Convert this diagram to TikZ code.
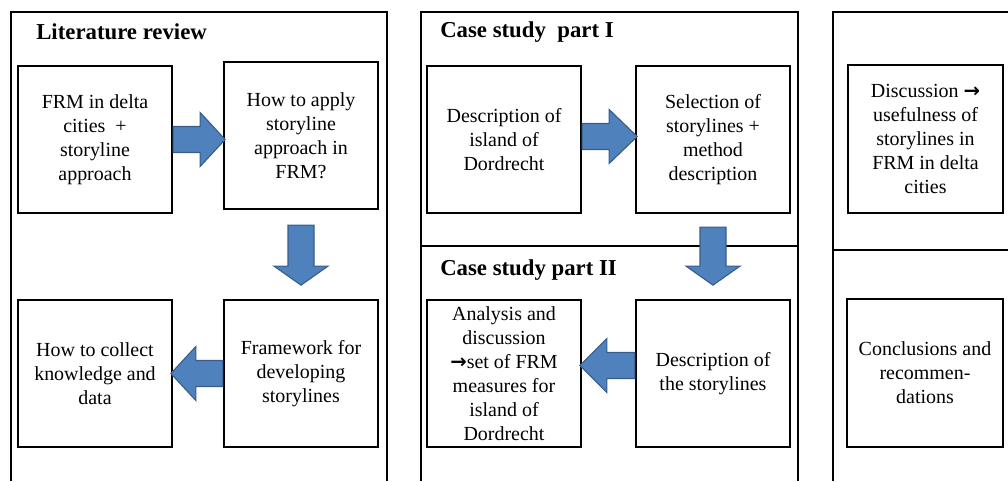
\documentclass[tikz,border=0pt]{standalone}
\usepackage{fontspec}
\setmainfont{Liberation Serif}
\newfontfamily\arrfont{DejaVu Sans}
\newcommand{\rarr}{{\arrfont\bfseries\fontsize{14}{17}\selectfont →}}
\usetikzlibrary{calc}
\definecolor{afill}{RGB}{79,129,189}
\definecolor{aline}{RGB}{56,93,138}
\newdimen\pxu \pxu=0.025cm
\tikzset{
  panel/.style={line width=1.6pt, black},
  stepbox/.style={draw, line width=1.6pt, align=center, inner sep=0pt,
    font=\fontsize{14.2}{17}\selectfont},
  heading/.style={anchor=west, inner sep=0pt, font=\fontsize{16.2}{18}\selectfont\bfseries},
  arrowst/.style={fill=afill, draw=aline, line width=0.8pt, line join=miter},
  pics/barrow/.style 2 args={code={
    \filldraw[arrowst] (0,-13) -- (#1-#2,-13) -- (#1-#2,-27) -- (#1,0) -- (#1-#2,27) -- (#1-#2,13) -- (0,13) -- cycle;}}
}
\begin{document}
\begin{tikzpicture}[x=0.025cm, y=-0.025cm]
\useasboundingbox (0,0) rectangle (1008,481);
% panels
\draw[panel] (11,481) -- (11,12) -- (387,12) -- (387,481);
\draw[panel] (421,481) -- (421,12) -- (798,12) -- (798,481);
\draw[panel] (421,246) -- (798,246);
\draw[panel] (833,481) -- (833,12) -- (1008,12);
\draw[panel] (833,250) -- (1008,250);
% headings
\node[heading] (t1) at (36,32) {Literature review};
\node[heading] (t2) at (440,32) {Case study\ \ part I};
\node[heading] (t3) at (440,270) {Case study part II};
% boxes
\node[stepbox, minimum width=154\pxu, minimum height=147\pxu] (A) at (95,139.5) {FRM in delta\\cities \ +\\storyline\\approach};
\node[stepbox, minimum width=154\pxu, minimum height=147\pxu] (B) at (301,135.5) {How to apply\\storyline\\approach in\\FRM?};
\node[stepbox, minimum width=154\pxu, minimum height=147\pxu] (C) at (95,373.5) {How to collect\\knowledge and\\data};
\node[stepbox, minimum width=154\pxu, minimum height=147\pxu] (D) at (301,373.5) {Framework for\\developing\\storylines};
\node[stepbox, minimum width=154\pxu, minimum height=147\pxu] (E) at (504,139.5) {Description of\\island of\\Dordrecht};
\node[stepbox, minimum width=154\pxu, minimum height=147\pxu] (F) at (713,139.5) {Selection of\\storylines +\\method\\description};
\node[stepbox, minimum width=154\pxu, minimum height=147\pxu] (G) at (504,373.5) {Analysis and\\discussion\\\rarr set of FRM\\measures for\\island of\\Dordrecht};
\node[stepbox, minimum width=154\pxu, minimum height=147\pxu] (H) at (713,373.5) {Description of\\the storylines};
\node[stepbox, minimum width=155\pxu, minimum height=148\pxu] (I) at (925.5,139) {Discussion \rarr\\usefulness of\\storylines in\\FRM in delta\\cities};
\node[stepbox, minimum width=156\pxu, minimum height=148\pxu] (J) at (925,373) {Conclusions and\\recommen-\\dations};
% block arrows
\pic at (A.east) {barrow={52}{25}};
\pic[rotate=-90] at ($(B.south)+(0,15)$) {barrow={60}{19}};
\pic[rotate=180] at (D.west) {barrow={52}{25}};
\pic at ($(E.east)+(0,-3)$) {barrow={55}{28}};
\pic[rotate=-90] at ($(F.south)+(0,13)$) {barrow={58}{19}};
\pic[rotate=180] at ($(H.west)+(0,-8)$) {barrow={55}{27}};
\end{tikzpicture}
\end{document}
